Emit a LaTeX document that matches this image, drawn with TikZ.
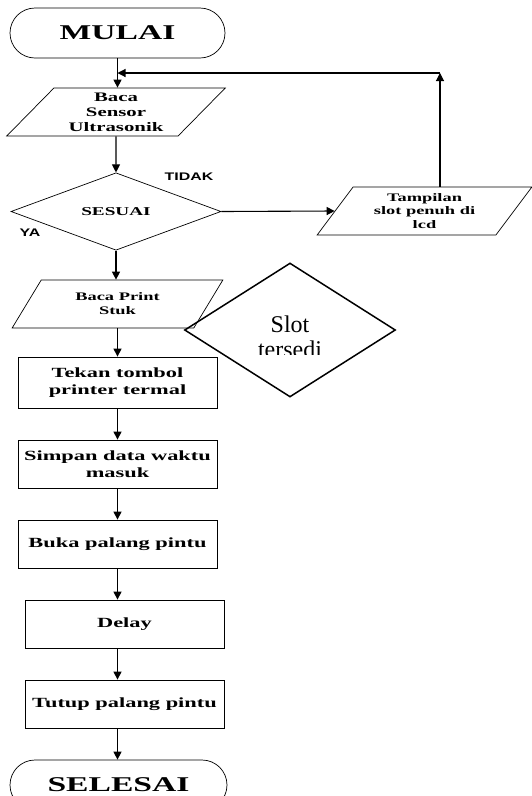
\documentclass[tikz,border=0pt]{standalone}
\usepackage{fontspec}
\setmainfont{Liberation Serif}
\setsansfont{Liberation Sans}
\usepackage{graphicx}
\usetikzlibrary{arrows.meta, positioning, shapes.geometric, shapes.misc}
\newcommand{\wide}[2][1.6]{\scalebox{#1}[1]{#2}}
\tikzset{%
	terminal/.style={
		rounded rectangle,
		draw,
		line width=0.7pt,
		minimum width=215pt,
		minimum height=50pt,
		inner sep=0pt,
		font=\fontsize{21}{23}\selectfont\bfseries
	},
	io/.style={
		trapezium,
		trapezium stretches=true,
		draw,
		line width=0.7pt,
		minimum height=48pt,
		inner sep=0pt,
		align=center,
		font=\fontsize{12}{14}\selectfont\bfseries
	},
	process/.style={
		rectangle,
		draw,
		line width=0.8pt,
		minimum width=199pt,
		minimum height=48pt,
		inner sep=0pt,
		align=center,
		font=\fontsize{14}{17}\selectfont\bfseries
	},
	decision/.style={
		diamond,
		draw,
		line width=0.7pt,
		inner sep=0pt,
		font=\fontsize{12}{14}\selectfont\bfseries
	},
	flow/.style={-{Triangle[length=8pt,width=8pt]}, line width=1.1pt},
	answer/.style={font=\fontsize{11}{12}\selectfont\sffamily\bfseries}
}

\begin{document}
\begin{tikzpicture}[x=1pt, y=-1pt]
	\clip (0,0) rectangle (532,796);
	% Start
	\node[terminal] (mulai) at (117.5,33) {\wide{MULAI}};
	% Read sensor
	\node[io, minimum width=219pt,
	trapezium left angle=47, trapezium right angle=133,
	font=\fontsize{13}{15}\selectfont\bfseries] (sensor) at (116,112)
	{\wide{Baca}\\\wide{Sensor}\\\wide{Ultrasonik}};
	% Decision
	\node[decision, minimum width=210pt, minimum height=73pt] (sesuai) at (116,211.5) {\wide{SESUAI}};
	\node[io, minimum width=215pt,
	trapezium left angle=54, trapezium right angle=126,
	font=\fontsize{11.5}{13.5}\selectfont\bfseries] (tampilan) at (424.5,211)
	{\wide{Tampilan}\\\wide{slot penuh di}\\\wide{lcd}};
	\node[answer] (tidak) at (189,177) {\wide[1.45]{TIDAK}};
	\node[answer] (ya) at (30,233) {\wide[1.45]{YA}};
	% Ticket
	\node[io, minimum width=211pt,
	trapezium left angle=54, trapezium right angle=126,
	font=\fontsize{11.5}{14}\selectfont\bfseries] (print) at (117.5,304)
	{\wide{Baca Print}\\\wide{Stuk}};
	\node[decision, line width=1.5pt, minimum width=211pt, minimum height=134pt] (slot) at (290,330) {};
	\begin{scope}
		\clip (185,258) rectangle (396,354);
		\node[font=\fontsize{24}{25}\selectfont, align=center] (slotlbl) at (290,337) {Slot\\tersedi};
	\end{scope}
	% Process steps
	\node[process, minimum height=51pt] (tekan) at (117.5,382.5) {\wide{Tekan tombol}\\\wide{printer termal}};
	\node[process] (simpan) at (117.5,464) {\wide{Simpan data waktu}\\\wide{masuk}};
	\node[process] (buka) at (117.5,544) {\wide{Buka palang pintu}};
	\node[process] (delay) at (124.5,624) {\wide{Delay}};
	\node[process] (tutup) at (124.5,704) {\wide{Tutup palang pintu}};
	% End
	\node[terminal, minimum width=217pt] (selesai) at (118.5,785) {\wide{SELESAI}};
	% Connectors
	\coordinate (loop) at (440,73);
	\draw[flow] (mulai.south) -- (mulai.south |- sensor.north);
	\draw[flow] (sensor.south) -- (sesuai.north);
	\draw[flow] (sesuai.east) -- (tampilan.left side);
	\draw[flow] (loop |- tampilan.north) -- (loop);
	\draw[flow] (loop) -- (loop -| mulai.south);
	\draw[flow] (sesuai.south) -- (sesuai.south |- print.north);
	\draw[flow] (print.south -| tekan.north) -- (tekan.north);
	\draw[flow] (tekan.south) -- (simpan.north);
	\draw[flow] (simpan.south) -- (buka.north);
	\draw[flow] (buka.south) -- (buka.south |- delay.north);
	\draw[flow] (delay.south -| buka.south) -- (buka.south |- tutup.north);
	\draw[flow] (tutup.south -| buka.south) -- (buka.south |- selesai.north);
\end{tikzpicture}
\end{document}
